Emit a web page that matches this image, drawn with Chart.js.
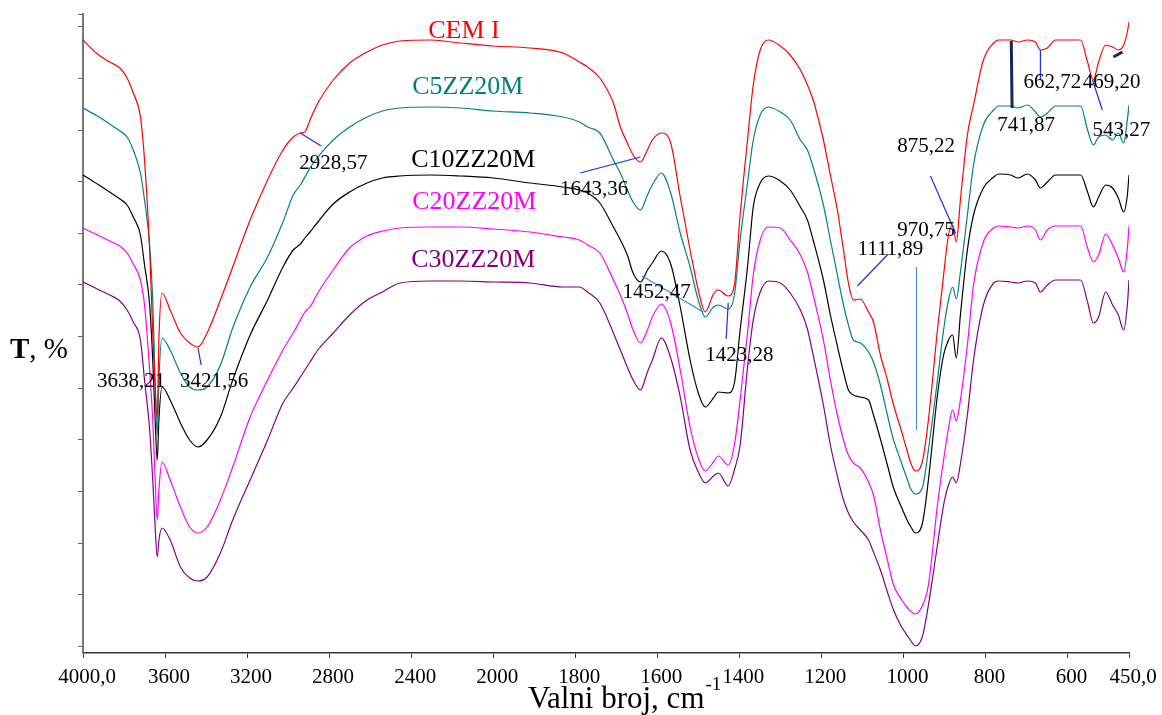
<!DOCTYPE html>
<html>
<head>
<meta charset="utf-8">
<script src="https://cdn.jsdelivr.net/npm/chart.js@4.4.0/dist/chart.umd.min.js"></script>
<style>
  html, body { margin: 0; padding: 0; background: #fff; }
  #wrap { width: 1162px; height: 715px; }
</style>
</head>
<body>
<div id="wrap"><canvas id="ftirChart" width="1162" height="715"></canvas></div>
<script>
// valni broj (cm-1)
var wavenumbers = [
  4000, 3930, 3870, 3820, 3785, 3755, 3720, 3700, 3675, 3660, 3650, 3638, 3630, 3615, 3575, 3525, 3480, 3440, 3395,
  3330, 3270, 3185, 3100, 3025, 2975, 2940, 2918, 2893, 2855, 2780, 2700, 2615, 2540, 2455, 2305, 2160, 2000,
  1910, 1830, 1790, 1770, 1740, 1707, 1690, 1673, 1659, 1641, 1624, 1612, 1590, 1568, 1544, 1520, 1500, 1483,
  1463, 1451, 1427, 1412, 1398, 1380, 1366, 1349, 1329, 1300, 1276, 1251, 1234, 1220, 1195, 1178, 1161, 1146,
  1134, 1122, 1105, 1085, 1073, 1056, 1039, 1024, 1007, 990, 983, 971, 954, 939, 917, 902, 890, 880, 871, 861,
  844, 829, 805, 780, 768, 739, 720, 698, 678, 666, 649, 629, 568, 551, 537, 524, 507, 490, 476, 463, 454, 450
];

// T, % (arbitrary offset units, curves stacked)
var cemI = [
  122.6, 119.8, 118.2, 117, 115, 112, 107.2, 98.6, 80.6, 64, 54.6, 47, 62.6, 72, 68.6, 64, 62, 61.2, 64,
  70.6, 77.2, 86.6, 94.6, 100.6, 103.2, 104, 104.2, 106.6, 110, 114.6, 118, 120.2, 121.6, 122.4, 122.6, 122, 121.4,
  121, 120, 118.2, 117.2, 115, 110, 105.2, 102, 99.6, 98.2, 100.6, 102.6, 104, 102.2, 91.2, 80.6, 72.6, 68.2,
  71.8, 72.6, 71.4, 73.6, 87.6, 102.6, 113.6, 120.6, 122.6, 121.4, 119.6, 116.6, 113.6, 110.6, 102.6, 95.6, 88.6, 80.6,
  74, 70.6, 70.8, 68.2, 66.2, 59.6, 54.6, 49.6, 45, 40.2, 38.2, 36.4, 38.2, 46.6, 64.6, 75.6, 83.6, 85.6, 82.2, 90.6,
  103.6, 109.6, 118.6, 122, 122.6, 122.6, 122.2, 122.6, 122.2, 120.6, 121, 122.6, 122.6, 118.2, 114.6, 118.2, 121.6, 121.2, 120.6, 121.6, 124.2, 126.2
];
var c5zz20m = [
  109, 107.4, 105.8, 104.4, 103.2, 100.6, 96, 90.6, 81.6, 70.6, 56.6, 43.6, 54.6, 63, 60.6, 56, 53.2, 52.6, 53.2,
  57.6, 65, 73.2, 79.2, 86.2, 91.6, 93.6, 95.2, 97, 99.2, 102.6, 105.2, 107.2, 108.4, 109, 109.2, 109, 108.4,
  108, 107.2, 106.2, 105.2, 104, 98.6, 96, 92.6, 90.2, 88.6, 91.6, 93.6, 96, 92.2, 84, 77.2, 70.6, 67.2,
  69.2, 69.6, 68.8, 71.6, 82.6, 94, 102.6, 107.6, 109.2, 108.2, 106.6, 102.6, 100.6, 97.2, 89.6, 82.6, 75.6, 69.6,
  65.6, 62.6, 62, 60.2, 58.2, 53.6, 47.6, 42.6, 38.6, 34.6, 33, 31.8, 33, 40.6, 54.6, 64.6, 70.6, 73.2, 70.8, 76.2,
  87.6, 97.6, 105.6, 108.6, 109.4, 109.4, 109, 109.6, 108.2, 107.2, 108, 109.4, 109.4, 104.6, 101.6, 103.2, 103.6, 102.6, 104, 102, 106.6, 109.6
];
var c10zz20m = [
  95.6, 93.8, 92.2, 90.8, 89.6, 87.2, 83.6, 77.6, 69.6, 58.6, 48.6, 38.6, 46.6, 53.2, 50.6, 46, 42.6, 41.2, 42.6,
  47.2, 54.6, 63.6, 70.6, 77.2, 80.6, 81.8, 83, 84.2, 86.2, 89.8, 92.2, 94, 95, 95.4, 95.6, 95.4, 95,
  94, 93.2, 92.6, 92, 90, 85.2, 82.6, 79.6, 76, 74.2, 76.6, 78, 80.4, 78, 69.2, 58.6, 52, 49.2,
  51, 52.2, 52, 54, 64.6, 77.2, 89.2, 94, 95.4, 94.4, 92.6, 89.2, 86.6, 82.6, 74.6, 67.6, 61.4, 56.2,
  52.6, 51.6, 51.2, 50.6, 47.6, 42.8, 37.6, 33, 29.6, 26.4, 25.4, 24, 25.8, 34.6, 51.6, 59.6, 62.6, 63.6, 59, 67.6,
  80.6, 87.6, 93, 95.2, 95.8, 95.6, 95, 95.8, 94.6, 93, 94.2, 95.6, 95.6, 92.2, 89.2, 91.2, 93.6, 93, 91, 88.2, 91.6, 95.6
];
var c20zz20m = [
  85, 83.6, 82.4, 81.4, 80, 77.8, 74.6, 69.6, 56.6, 46.6, 36.6, 26.6, 32.6, 38.2, 34.6, 29.2, 25.2, 24, 25.2,
  30.6, 37.2, 47.2, 54.6, 60.6, 64, 66.6, 68.2, 69.2, 72, 76.6, 81, 83.4, 84.4, 85, 85.2, 85.2, 84.8,
  84.2, 83.2, 82.6, 81.6, 80, 74.6, 71.6, 68, 64.6, 62, 64.6, 67.2, 69.8, 66.2, 56.6, 45.2, 39, 36.4,
  38.2, 39.4, 37.6, 41.6, 50.6, 64, 75.6, 82.6, 85.2, 85, 82.6, 79.6, 76.2, 71.6, 62.6, 54.6, 47.6, 42.6,
  39.6, 38, 37, 34.2, 31.6, 24.6, 18.6, 13.6, 11, 9, 8.4, 7.8, 9.4, 13.6, 29.6, 38.6, 45, 48.6, 46.4, 50.6,
  61.6, 73.6, 82.2, 85, 85.4, 85.2, 85, 85.4, 84.6, 82.6, 84.6, 85.4, 85.4, 81, 78.2, 79.6, 83.8, 81.6, 79, 76.2, 81, 85.4
];
var c30zz20m = [
  74.2, 72.8, 71.6, 70.4, 68.6, 66.2, 62.6, 54.6, 44.6, 34.6, 26.6, 19.2, 22.6, 25, 22.6, 17.2, 15, 14.4, 15.2,
  20, 26.6, 34.6, 42.6, 50, 53, 55.2, 56.6, 58.2, 60.6, 64, 67.6, 70.6, 72.2, 74, 74.4, 74.4, 74.2,
  74, 73.2, 73.2, 72.2, 70, 64, 60.6, 57.2, 54.6, 52.6, 56.2, 58.6, 63, 59.2, 51.2, 40.6, 36.2, 34,
  35.4, 36, 33.4, 36.6, 41.6, 57.2, 66.6, 72.2, 74.4, 74, 72, 68.6, 64.8, 59.6, 49.6, 41.6, 35.4, 30.6,
  28, 26.2, 24.6, 22.6, 20.2, 16.6, 12.2, 8.6, 5.6, 3.4, 2.6, 1.4, 3.2, 9.6, 21.6, 29.6, 33.6, 35.2, 34, 37.8,
  47.6, 58.6, 69.6, 74, 74.4, 74.2, 74, 74.4, 74, 72.2, 73.6, 74.6, 74.6, 70.2, 66, 67.2, 72.2, 69.6, 67.6, 64.6, 69.6, 74.6
];

var seriesNames = ['CEM I', 'C5ZZ20M', 'C10ZZ20M', 'C20ZZ20M', 'C30ZZ20M'];
var seriesColors = ['#ff0000', '#008080', '#000000', '#ff00ff', '#800080'];

var xTicks = [4000, 3600, 3200, 2800, 2400, 2000, 1800, 1600, 1400, 1200, 1000, 800, 600, 450];
var xTickLabels = ['4000,0', '3600', '3200', '2800', '2400', '2000', '1800', '1600', '1400', '1200', '1000', '800', '600', '450,0'];

// marked peaks: label, leader line (wavenumber, T -> wavenumber, T), text anchor
var peakMarks = [
  { text: '2928,57', line: [2941, 104.0, 2839, 101.4], at: [2946, 96.8] },
  { text: '3421,56', line: [3439, 61.0, 3424, 57.6], at: [3527, 53.2] },
  { text: '3638,21', line: null, at: [3932, 53.2] },
  { text: '1643,36', line: [1788, 96, 1641, 99.2], at: [1837, 91.6] },
  { text: '1452,47', line: [1637, 75.4, 1488, 68.2], at: [1685, 71], color: '#3a86d0' },
  { text: '1423,28', line: [1427, 70, 1432, 62.8], at: [1483, 58.4] },
  { text: '1111,89', line: [1112, 73.4, 1037, 79.8], at: [1112, 79.6] },
  { text: '970,75', line: [968, 77.2, 968, 44.6], at: [1015, 83.4], color: '#4a90d9' },
  { text: '875,22', line: [934, 95.4, 873, 84], at: [1015, 100.2] },
  { text: '741,87', line: [737, 122.4, 735, 109], at: [771, 104.4], color: '#15285a', width: 3 },
  { text: '662,72', line: [666, 120.6, 666, 114.6], at: [707, 113] },
  { text: '543,27', line: [539, 114.6, 515, 108.6], at: [539, 103.4] },
  { text: '469,20', line: [488, 119.2, 466, 120.2], at: [563, 113], color: '#15285a', width: 3 }
];
// where each sample name sits (wavenumber, T)
var nameSpots = [[2317, 123], [2395, 111.8], [2400, 97.2], [2395, 88.8], [2400, 77.2]];

// the spectrometer plot is stretched 2x below 2000 cm-1
class WavenumberScale extends Chart.LinearScale {
  getPixelForValue(value) {
    var t = value >= 2000 ? (4000 - value) / 2 : 1000 + (2000 - value);
    return this.left + t / 2550 * this.width;
  }
  getValueForPixel(pixel) {
    var t = (pixel - this.left) / this.width * 2550;
    return t <= 1000 ? 4000 - 2 * t : 2000 - (t - 1000);
  }
  buildTicks() {
    return xTicks.map(function(v) { return { value: v }; });
  }
}
WavenumberScale.id = 'wavenumber';
WavenumberScale.defaults = Chart.LinearScale.defaults;
Chart.register(WavenumberScale);

var yTicks = [];
for (var k = 0; k <= 12; k++) yTicks.push(1.36 + 10.32 * k);
yTicks.push(127.8);

var series = [cemI, c5zz20m, c10zz20m, c20zz20m, c30zz20m];
var datasets = series.map(function(arr, i) {
  return {
    label: seriesNames[i],
    data: wavenumbers.map(function(w, j) { return { x: w, y: arr[j] }; }),
    borderColor: seriesColors[i],
    borderWidth: 1.2,
    pointRadius: 0,
    fill: false,
    cubicInterpolationMode: 'monotone'
  };
});

var serif = '"Liberation Serif", "Times New Roman", serif';

var labelsPlugin = {
  id: 'ftirLabels',
  afterDatasetsDraw: function(chart) {
    var ctx = chart.ctx;
    var xs = chart.scales.x, ys = chart.scales.y;
    ctx.save();
    peakMarks.forEach(function(m) {
      if (m.line) {
        ctx.strokeStyle = m.color || '#1a2cf0';
        ctx.lineWidth = m.width || 1.2;
        ctx.beginPath();
        ctx.moveTo(xs.getPixelForValue(m.line[0]), ys.getPixelForValue(m.line[1]));
        ctx.lineTo(xs.getPixelForValue(m.line[2]), ys.getPixelForValue(m.line[3]));
        ctx.stroke();
      }
    });
    ctx.fillStyle = '#000';
    ctx.font = '21px ' + serif;
    ctx.textAlign = 'left';
    ctx.textBaseline = 'alphabetic';
    peakMarks.forEach(function(m) {
      ctx.fillText(m.text, xs.getPixelForValue(m.at[0]), ys.getPixelForValue(m.at[1]));
    });
    ctx.font = '26px ' + serif;
    nameSpots.forEach(function(p, i) {
      ctx.fillStyle = seriesColors[i];
      ctx.fillText(seriesNames[i], xs.getPixelForValue(p[0]), ys.getPixelForValue(p[1]));
    });

    // axis titles
    ctx.fillStyle = '#000';
    ctx.font = '31px ' + serif;
    var title = 'Valni broj, cm';
    ctx.fillText(title, 528, 708);
    var tw = ctx.measureText(title).width;
    ctx.font = '19px ' + serif;
    ctx.fillText('-1', 528 + tw + 1, 690);

    ctx.font = 'bold 29px ' + serif;
    ctx.fillText('T', 10, 358);
    var bw = ctx.measureText('T').width;
    ctx.font = '29px ' + serif;
    ctx.fillText(', %', 10 + bw, 358);
    ctx.restore();
  }
};

new Chart(document.getElementById('ftirChart').getContext('2d'), {
  type: 'line',
  data: { datasets: datasets },
  options: {
    responsive: false,
    devicePixelRatio: 1,
    animation: false,
    events: [],
    layout: { padding: { left: 0, right: 33, top: 14, bottom: 0 } },
    plugins: { legend: { display: false }, tooltip: { enabled: false } },
    scales: {
      x: {
        type: 'wavenumber',
        min: 450,
        max: 4000,
        grid: { drawOnChartArea: false, drawTicks: true, tickLength: 5, color: '#333' },
        border: { display: true, color: '#333', width: 1.5 },
        ticks: {
          autoSkip: false,
          maxRotation: 0,
          padding: 7,
          labelOffset: 4,
          color: '#000',
          font: { family: serif, size: 21 },
          callback: function(value, index) { return xTickLabels[index]; }
        },
        afterFit: function(scale) { scale.height = 62; }
      },
      y: {
        type: 'linear',
        min: 0,
        max: 127.8,
        afterBuildTicks: function(scale) {
          scale.ticks = yTicks.map(function(v) { return { value: v }; });
        },
        grid: { drawOnChartArea: false, drawTicks: true, tickLength: 5, color: '#666' },
        border: { display: true, color: '#777', width: 2 },
        ticks: { callback: function() { return ''; } },
        afterFit: function(scale) { scale.width = 83; }
      }
    }
  },
  plugins: [labelsPlugin]
});
</script>
</body>
</html>
